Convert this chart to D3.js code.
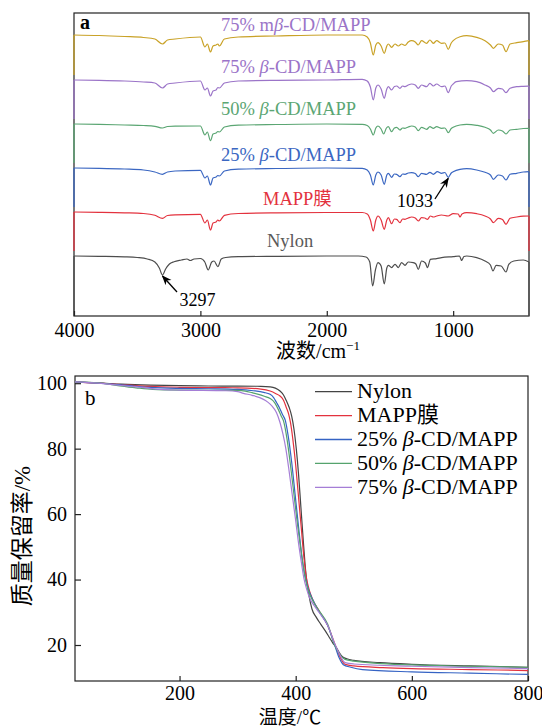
<!DOCTYPE html>
<html><head><meta charset="utf-8">
<script src="https://cdn.jsdelivr.net/npm/d3@7"></script>
<style>
body{margin:0;background:#fff}
svg{display:block}
text{font-family:"Liberation Serif","Times New Roman","Noto Sans CJK SC",serif;}
</style>
</head><body>
<svg id="c" width="542" height="728"></svg>
<script>
// ================= DATA =================
// Panel a: FTIR spectra, [wavenumber (cm-1), absorption depth below baseline (a.u.)]
const ftirTicks = [4000, 3000, 2000, 1000];
const ftirNames = ["Nylon", "MAPP膜", "25% β-CD/MAPP", "50% β-CD/MAPP", "75% β-CD/MAPP", "75% mβ-CD/MAPP"];
const ftirOffsets = [0, 44, 88, 132, 176, 221];

const irNylon = [[4000,0],[3800,0.3],[3600,0.8],[3500,1.5],[3420,3],[3360,6],[3325,12],[3300,19],[3275,13],[3245,8],[3209,5.7],[3150,4],[3106,3],[3080,4.5],[3050,3],[3000,2.5],[2965,6],[2938,14],[2910,6],[2892,5],[2862,10.7],[2835,3],[2800,1.5],[2700,0.7],[2400,0.3],[2000,0],[1750,0],[1690,1],[1660,6],[1637,30],[1615,14],[1595,6.6],[1570,10],[1545,28],[1525,12],[1513,9.3],[1487,11.6],[1460,8.3],[1434,11.6],[1408,6.6],[1381,9.3],[1355,6],[1316,6.6],[1295,8],[1276,13.3],[1250,5],[1220,7],[1203,11.6],[1180,3.3],[1131,2.6],[1092,1.6],[1000,0.6],[950,0],[933,4.5],[915,0.5],[893,0],[814,1.6],[748,5],[705,9],[685,15],[660,9.3],[620,10],[582,16],[560,8.3],[520,5],[445,4],[400,6]];
const irMAPP = [[4000,0],[3800,0.3],[3600,0.8],[3450,1.5],[3360,3.3],[3300,6.3],[3260,3.5],[3200,2.8],[3000,2.3],[2964,11],[2945,8],[2920,18],[2900,11],[2876,10],[2862,8],[2850,9],[2810,3.3],[2700,1.5],[2400,0.8],[2000,0.5],[1720,0.5],[1680,2],[1655,8],[1632,19],[1612,8],[1595,4],[1570,8],[1545,17.3],[1525,8],[1513,5.7],[1487,11.7],[1465,7],[1447,7.3],[1421,10.7],[1400,7],[1381,7.3],[1355,6],[1329,5],[1300,6],[1276,9],[1250,5.7],[1225,6],[1203,7.3],[1180,4],[1157,5],[1131,4],[1092,3],[1039,4],[1000,1.7],[960,2],[946,5],[930,2],[893,0.7],[814,1.7],[748,4],[705,7],[682,10.7],[643,6.3],[610,7.5],[582,12.3],[550,6.3],[497,5],[445,4.2],[400,4]];
const ir25 = [[4000,0],[3800,0.3],[3600,1],[3450,2],[3360,4],[3300,6.3],[3260,4],[3200,3],[3000,2.3],[2964,10],[2945,8],[2920,17],[2900,10],[2876,9],[2862,7.5],[2850,8],[2810,3],[2700,1.2],[2400,0.5],[2000,0],[1720,0.3],[1680,2],[1655,7],[1632,17],[1612,7],[1595,4],[1570,7],[1545,16.3],[1525,7],[1513,5.3],[1487,9.3],[1465,6],[1447,6.3],[1421,8.7],[1400,6],[1381,6.3],[1355,5],[1329,4.7],[1300,5.5],[1276,8.7],[1250,5.3],[1210,6.3],[1184,4.3],[1157,6.3],[1125,3.7],[1092,5.3],[1065,4.5],[1039,9.3],[1015,5],[1000,3.7],[946,1.3],[893,0.7],[814,2],[748,4.3],[705,7],[682,11.3],[643,7],[610,8],[582,12],[550,6.3],[497,5.3],[445,4],[400,3.7]];
const ir50 = [[4000,0],[3800,0.3],[3600,1],[3450,1.5],[3360,2.3],[3300,4],[3260,2.5],[3200,2.2],[3000,2],[2964,11],[2945,8],[2920,16.7],[2900,10],[2876,9],[2862,7.5],[2850,8],[2810,3],[2700,1.2],[2400,0.5],[2000,0],[1720,0.3],[1680,1.5],[1655,5],[1632,11],[1612,4],[1595,2],[1570,5],[1550,10],[1528,4],[1513,2.7],[1487,7.7],[1465,4],[1447,3.3],[1421,6],[1400,4],[1381,4.3],[1355,3],[1329,2],[1300,3],[1276,6.7],[1250,3.3],[1210,5.3],[1184,2.7],[1157,4.3],[1131,2.7],[1092,4.3],[1065,4],[1039,8.7],[1015,4.5],[1000,3.3],[946,1],[893,0.3],[814,1.3],[748,3.3],[705,6],[682,9.3],[643,6],[610,7],[582,10],[550,6],[497,5.3],[445,4.5],[400,4.3]];
const ir75 = [[4000,0],[3800,0.3],[3600,1],[3450,2],[3360,3],[3300,8],[3260,4],[3200,3],[3000,1],[2964,10],[2945,8],[2920,16],[2900,11],[2876,10],[2862,7.5],[2850,8],[2810,3],[2700,1],[2400,0.3],[2000,0],[1720,-0.7],[1680,1],[1655,7],[1632,20],[1612,8],[1595,5],[1570,9],[1545,18.3],[1525,9],[1513,6.7],[1487,10],[1465,6.5],[1447,6],[1421,8.3],[1400,6],[1381,6.7],[1355,5],[1329,4],[1300,5],[1276,8.3],[1250,5],[1210,6.7],[1184,3.3],[1157,6],[1131,4],[1092,6.7],[1065,6],[1039,12.7],[1015,6],[1000,4],[975,1.7],[893,0.7],[814,1.7],[748,5],[705,8],[682,11.7],[643,8.3],[610,9],[582,12.7],[550,8.3],[497,6.7],[445,6.3],[400,6]];
const ir75m = [[4000,0],[3800,0.5],[3600,1.5],[3450,2.5],[3360,4],[3300,9],[3260,5],[3200,4],[3000,2],[2964,12],[2945,9],[2920,17],[2900,11],[2876,10],[2862,9],[2850,11],[2810,4],[2700,2],[2400,1],[2000,0],[1720,0],[1680,2],[1655,8],[1632,20],[1612,10],[1595,7.7],[1570,11],[1545,18.3],[1525,11],[1513,9],[1487,12.3],[1460,9],[1434,11],[1408,9],[1381,10.3],[1355,7],[1329,5.7],[1300,7],[1276,10],[1250,5.7],[1210,8.3],[1184,5],[1157,8.3],[1131,5.7],[1092,8.3],[1065,8],[1039,14.3],[1015,8],[1000,5.7],[946,1.7],[893,0.7],[814,2.3],[748,5.7],[705,10],[682,13.3],[643,9],[610,10],[582,16.7],[550,9],[497,7.7],[445,6.7],[400,5.7]];
const ftirSeries = [irNylon, irMAPP, ir25, ir50, ir75, ir75m];
const ftirPeaks = [{label:"3297", series:0, wn:3300}, {label:"1033", series:2, wn:1039}];

// Panel b: TGA, [temperature (°C), mass retention (%)]
const tgaTicksX = [200, 400, 600, 800];
const tgaTicksY = [20, 40, 60, 80, 100];
const tgaNames = ["Nylon", "MAPP膜", "25% β-CD/MAPP", "50% β-CD/MAPP", "75% β-CD/MAPP"];
const tgaNylon = [[20,100.4],[60,100.1],[100,99.7],[150,99.4],[200,99.25],[250,99.15],[300,99.1],[340,99.05],[356,98.9],[365,98.5],[373,97.6],[379,96.4],[384,94.6],[389,92.5],[393,90],[397,86],[401,80],[405,72],[409,62],[413,52],[416,45],[419,39.5],[423,35],[428,31],[435,28.6],[443,26.4],[451,24.3],[458,22.3],[464,20.6],[470,19.2],[475,17.7],[480,16.5],[488,15.8],[500,15.3],[545,14.6],[600,14.1],[700,13.6],[800,13.2]];
const tgaMAPP = [[20,100.4],[60,100],[100,99.6],[150,99],[200,98.75],[250,98.65],[300,98.6],[340,98.2],[356,97.6],[366,96.8],[373,96.1],[379,94.8],[384,92.5],[388,90.5],[391,88],[395,83],[400,75],[405,65],[410,55],[414,47],[418,41],[423,37],[429,34],[440,30.5],[455,26],[467,20.5],[476,16.5],[485,14.1],[500,13.6],[550,13.1],[600,12.8],[700,12.5],[800,12.2]];
const tga25 = [[20,100.4],[60,100],[100,99.5],[150,98.7],[200,98.4],[250,98.3],[300,98.1],[327,97.7],[345,97.2],[356,96.6],[362,95.6],[367,94.1],[372,92.5],[377,90.5],[382,88.7],[387,84],[393,76],[399,66],[405,56],[410,48],[414,43],[418,39.5],[423,36.5],[429,34],[440,30.3],[455,26],[467,20],[475,16],[482,14],[495,13.2],[515,12.5],[600,11.8],[700,11.4],[800,11.0]];
const tga50 = [[20,100.4],[60,100.1],[97,99.2],[125,98.6],[154,98.1],[200,97.9],[300,97.8],[313,97.6],[325,97.1],[336,96.6],[346,96],[356,95.3],[364,94],[370,92],[375,90],[379,88.5],[385,83],[391,75],[397,66],[403,57],[409,49],[413,44],[417,40],[422,36.5],[428,34],[440,30.5],[455,26.4],[467,20],[476,17.1],[485,15.6],[500,15.1],[600,13.9],[700,13.5],[800,13.2]];
const tga75 = [[20,100.4],[60,100],[100,99.3],[130,98.8],[160,98.2],[200,97.9],[280,97.7],[300,97.4],[310,96.9],[325,96.3],[338,95.6],[348,94.7],[356,93.6],[362,92.4],[367,91],[373,88],[378,84.5],[383,80],[388,74],[394,66],[400,58],[405,51],[410,45],[414,40.5],[419,37],[425,34],[432,32],[440,30],[455,26],[467,20.5],[476,17],[485,14.6],[500,14.2],[600,13.5],[700,13.1],[800,12.8]];
const tgaSeries = [tgaNylon, tgaMAPP, tga25, tga50, tga75];

// ================= STYLE / LAYOUT =================
const ftirColors = ["#4d4d4d", "#e3323e", "#3b67c2", "#5ba673", "#9b74c8", "#c9a227"];
const ftirLabelColors = ["#5a5a5a", "#e3323e", "#3b67c2", "#5ba673", "#9b74c8", "#9b74c8"];
const tgaColors = ["#444444", "#e3323e", "#3563c4", "#55a36d", "#a57ed6"];

const svg = d3.select("#c");
const A = {l:74, r:529, t:13, b:316};
const B = {l:75, r:528, t:376, b:681};

function addLabel(sel, name) {
  const parts = name.split("β");
  sel.append("tspan").text(parts[0]);
  if (parts.length > 1) {
    sel.append("tspan").attr("font-style", "italic").text("β");
    sel.append("tspan").text(parts[1]);
  }
}

svg.append("defs").append("marker")
  .attr("id", "arr").attr("viewBox", "0 0 10 10").attr("refX", 9).attr("refY", 5)
  .attr("markerWidth", 10).attr("markerHeight", 10).attr("markerUnits", "userSpaceOnUse")
  .attr("orient", "auto")
  .append("path").attr("d", "M0,1 L10,5 L0,9 L3,5 Z").attr("fill", "#000");

// ================= PANEL A =================
const xA = d3.scaleLinear().domain([4000, 400]).range([A.l, A.r]);
const yA = d3.scaleLinear().domain([-60, 243]).range([A.b, A.t]);
const gA = svg.append("g");

gA.append("rect").attr("x", A.l).attr("y", A.t).attr("width", A.r - A.l).attr("height", A.b - A.t)
  .attr("fill", "none").attr("stroke", "#222").attr("stroke-width", 1.2);

const lineA = d3.line().x(d => xA(d[0])).y(d => yA(d[1])).curve(d3.curveMonotoneX);

ftirSeries.forEach((s, i) => {
  const off = ftirOffsets[i];
  const pts = s.map(d => [d[0], off - d[1]]);
  const low = i === 0 ? -60 : ftirOffsets[i - 1] + 5;
  const first = pts[0], last = pts[pts.length - 1];
  gA.append("line").attr("x1", xA(first[0])).attr("x2", xA(first[0]))
    .attr("y1", yA(first[1])).attr("y2", yA(low))
    .attr("stroke", ftirColors[i]).attr("stroke-width", 1.3);
  gA.append("line").attr("x1", xA(last[0])).attr("x2", xA(last[0]))
    .attr("y1", yA(last[1])).attr("y2", yA(low))
    .attr("stroke", ftirColors[i]).attr("stroke-width", 1.3);
  gA.append("path").datum(pts).attr("d", lineA)
    .attr("fill", "none").attr("stroke", ftirColors[i]).attr("stroke-width", 1.2);
});

const ftirLabelPos = [[2473, 9], [2505, 7], [2837, 7], [2837, 9], [2837, 7], [2837, 4]];
ftirNames.forEach((n, i) => {
  const t = gA.append("text").attr("x", xA(ftirLabelPos[i][0]))
    .attr("y", yA(ftirOffsets[i] + ftirLabelPos[i][1]))
    .attr("font-size", 18.5).attr("fill", ftirLabelColors[i]);
  addLabel(t, n);
});

const peakLayout = [{tx:3023, ty:-50, ax:3185, ay:-36, tipDy:-1}, {tx:1302, ty:49.3, ax:1144, ay:57, tipDy:-1}];
ftirPeaks.forEach((p, k) => {
  const s = ftirSeries[p.series];
  const d = s.find(q => q[0] === p.wn);
  const L = peakLayout[k];
  const tipY = ftirOffsets[p.series] - d[1] + L.tipDy;
  gA.append("line").attr("x1", xA(L.ax)).attr("y1", yA(L.ay))
    .attr("x2", xA(p.wn)).attr("y2", yA(tipY))
    .attr("stroke", "#000").attr("stroke-width", 1.3).attr("marker-end", "url(#arr)");
  gA.append("text").attr("x", xA(L.tx)).attr("y", yA(L.ty)).attr("text-anchor", "middle")
    .attr("font-size", 18).attr("fill", "#000").text(p.label);
});

const axA = d3.axisBottom(xA).tickValues(ftirTicks).tickSizeInner(-5).tickSizeOuter(0).tickPadding(7).tickFormat(d3.format("d"));
const gAx = gA.append("g").attr("transform", `translate(0,${A.b})`).call(axA);
gAx.select(".domain").remove();
gAx.selectAll("text").attr("font-size", 20).attr("fill", "#000").attr("font-family", '"Liberation Serif",serif');
gAx.selectAll("line").attr("stroke", "#222").attr("stroke-width", 1.2);

const tA = gA.append("text").attr("x", 318).attr("y", 358).attr("text-anchor", "middle").attr("font-size", 20).attr("fill", "#000");
tA.append("tspan").text("波数/cm");
tA.append("tspan").attr("dy", -8).attr("font-size", 13).text("−1");

gA.append("text").attr("x", 80).attr("y", 29).attr("font-size", 20).attr("font-weight", "bold").attr("fill", "#000").text("a");

// ================= PANEL B =================
const xB = d3.scaleLinear().domain([20, 800]).range([B.l, B.r]);
const yB = d3.scaleLinear().domain([9, 102.2]).range([B.b, B.t]);
const gB = svg.append("g");

gB.append("rect").attr("x", B.l).attr("y", B.t).attr("width", B.r - B.l).attr("height", B.b - B.t)
  .attr("fill", "none").attr("stroke", "#222").attr("stroke-width", 1.2);

const lineB = d3.line().x(d => xB(d[0])).y(d => yB(d[1])).curve(d3.curveMonotoneX);
tgaSeries.forEach((s, i) => {
  gB.append("path").datum(s).attr("d", lineB)
    .attr("fill", "none").attr("stroke", tgaColors[i]).attr("stroke-width", 1.2);
});

const axBx = d3.axisBottom(xB).tickValues(tgaTicksX).tickSizeInner(-5).tickSizeOuter(0).tickPadding(5);
const gBx = gB.append("g").attr("transform", `translate(0,${B.b})`).call(axBx);
const axBy = d3.axisLeft(yB).tickValues(tgaTicksY).tickSizeInner(-6).tickSizeOuter(0).tickPadding(8);
const gBy = gB.append("g").attr("transform", `translate(${B.l},0)`).call(axBy);
[gBx, gBy].forEach(g => {
  g.select(".domain").remove();
  g.selectAll("text").attr("font-size", 20).attr("fill", "#000").attr("font-family", '"Liberation Serif",serif');
  g.selectAll("line").attr("stroke", "#222").attr("stroke-width", 1.2);
});

gB.append("text").attr("x", 290).attr("y", 723.5).attr("text-anchor", "middle").attr("font-size", 19).attr("fill", "#000").text("温度/℃");
gB.append("text").attr("transform", "translate(30,536) rotate(-90)").attr("text-anchor", "middle")
  .attr("font-size", 23).attr("fill", "#000").text("质量保留率/%");
gB.append("text").attr("x", 85).attr("y", 405).attr("font-size", 21).attr("fill", "#000").text("b");

const lg = gB.append("g");
tgaNames.forEach((n, i) => {
  const y = 391.7 + i * 23.9;
  lg.append("line").attr("x1", 315).attr("x2", 352).attr("y1", y).attr("y2", y)
    .attr("stroke", tgaColors[i]).attr("stroke-width", 1.3);
  const t = lg.append("text").attr("x", 357).attr("y", y + 6.5).attr("font-size", 22).attr("fill", "#000");
  addLabel(t, n);
});
</script>
</body></html>
